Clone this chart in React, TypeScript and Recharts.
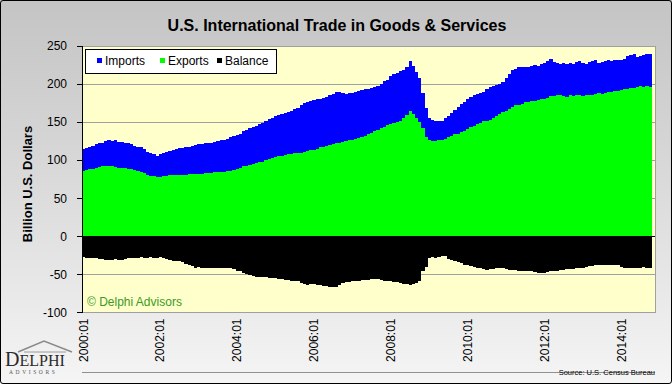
import React from 'react';
import { BarChart, Bar, XAxis, YAxis, CartesianGrid, ReferenceLine } from 'recharts';

// Monthly values, 2000:01 .. 2014:10, billion US$
const importsData = [
  115, 116, 118, 119, 121, 122, 123, 125, 126, 125, 126, 124, // 2000
  124, 123, 122, 121, 119, 118, 117, 115, 111, 110, 108, 106, // 2001
  108, 109, 111, 112, 114, 115, 116, 116, 117, 118, 119, 120, // 2002
  121, 121, 122, 123, 123, 124, 125, 126, 126, 128, 130, 132, // 2003
  133, 135, 138, 140, 142, 144, 145, 147, 149, 151, 154, 156, // 2004
  158, 160, 161, 162, 163, 165, 167, 169, 173, 175, 177, 178, // 2005
  179, 180, 181, 182, 183, 185, 187, 189, 190, 188, 187, 188, // 2006
  188, 190, 191, 192, 193, 194, 195, 196, 198, 200, 204, 206, // 2007
  211, 213, 215, 217, 219, 222, 230, 224, 216, 208, 188, 168, // 2008
  156, 153, 152, 151, 152, 155, 158, 162, 166, 170, 174, 177, // 2009
  181, 183, 185, 187, 188, 190, 193, 196, 197, 199, 200, 203, // 2010
  208, 213, 218, 220, 222, 223, 222, 223, 224, 225, 224, 226, // 2011
  228, 230, 233, 229, 228, 227, 228, 226, 228, 227, 229, 230, // 2012
  228, 226, 229, 230, 231, 228, 229, 230, 231, 230, 231, 231, // 2013
  232, 233, 237, 238, 239, 236, 237, 238, 239, 240, // 2014
];

const exportsData = [
  86, 87, 88, 89, 90, 91, 92, 92, 93, 92, 91, 90,
  90, 90, 89, 88, 87, 86, 84, 83, 80, 79, 79, 78,
  78, 79, 79, 80, 80, 80, 81, 81, 81, 82, 82, 82,
  82, 82, 83, 83, 83, 84, 84, 85, 85, 86, 86, 87,
  88, 90, 92, 93, 94, 95, 96, 97, 98, 100, 102, 103,
  104, 105, 106, 107, 108, 108, 109, 110, 110, 111, 112, 113,
  114, 115, 117, 118, 119, 120, 121, 122, 123, 124, 125, 126,
  127, 128, 129, 130, 132, 134, 136, 138, 140, 142, 144, 146,
  148, 149, 150, 152, 155, 159, 165, 161, 155, 150, 142, 131,
  127, 125, 125, 126, 127, 128, 130, 132, 134, 135, 137, 139,
  141, 143, 145, 147, 149, 151, 152, 153, 155, 158, 161, 163,
  165, 167, 170, 172, 173, 174, 176, 176, 178, 178, 179, 180,
  181, 182, 184, 184, 185, 185, 184, 183, 185, 184, 186, 185,
  184, 186, 185, 186, 187, 188, 187, 188, 189, 190, 191, 191,
  192, 193, 194, 195, 195, 196, 197, 196, 197, 196,
];

const balanceData = [
  -27, -28, -28, -29, -29, -30, -30, -31, -31, -31, -30, -31,
  -31, -30, -29, -28, -28, -28, -27, -28, -28, -27, -28, -28,
  -27, -29, -30, -31, -32, -33, -33, -34, -36, -37, -39, -41,
  -40, -41, -41, -41, -42, -42, -41, -42, -42, -42, -42, -43,
  -45, -46, -48, -50, -51, -52, -53, -53, -54, -54, -55, -55,
  -55, -56, -56, -57, -57, -58, -59, -59, -61, -63, -64, -63,
  -63, -64, -64, -65, -65, -66, -66, -66, -64, -61, -60, -60,
  -59, -58, -58, -57, -57, -57, -56, -56, -56, -57, -58, -59,
  -58, -60, -60, -61, -62, -63, -64, -63, -61, -59, -45, -40,
  -29, -27, -28, -27, -26, -26, -30, -31, -33, -34, -35, -37,
  -38, -39, -40, -41, -42, -43, -44, -43, -43, -42, -41, -42,
  -43, -44, -44, -44, -45, -46, -46, -45, -46, -47, -48, -48,
  -48, -47, -46, -46, -45, -44, -44, -43, -43, -43, -42, -41,
  -41, -40, -39, -39, -38, -38, -38, -37, -37, -38, -38, -38,
  -40, -41, -42, -42, -42, -41, -41, -40, -41, -42,
];

const months = importsData.map(
  (_, i) => `${2000 + Math.floor(i / 12)}:${String((i % 12) + 1).padStart(2, '0')}`
);
const yTicks = [-100, -50, 0, 50, 100, 150, 200, 250];

const data = months.map((month, i) => ({
  month,
  imports: importsData[i],
  exports: exportsData[i],
  balance: balanceData[i],
}));

const FONT = '"Liberation Sans", Arial, sans-serif';
const PAD = { left: 0, right: 3 };
const X_AXIS_HEIGHT = 71.5;
const LABEL_TOP = 384 - X_AXIS_HEIGHT + 6; // rotated tick labels hang below the plot

// vertical grid at each January boundary plus the right frame edge
const yearLines = ({ xAxis, offset }: any) => {
  const pts: number[] = [];
  const scale = xAxis && xAxis.scale;
  months.forEach((m, i) => {
    if (i > 0 && m.endsWith(':01') && typeof scale === 'function') {
      const v = scale(m);
      if (typeof v === 'number' && !isNaN(v)) pts.push(v);
    }
  });
  pts.push(offset.left + offset.width);
  return pts;
};

// recharts truncates the bar width to whole pixels; widen a touch and snap
// so neighbouring columns meet without seams (Excel gap width 0)
const SolidBar = ({ x, y, width, height, fill }: any) => {
  const x0 = Math.round(x - 0.12);
  const x1 = Math.round(x + width + 0.12);
  const y0 = Math.round(Math.min(y, y + height));
  const y1 = Math.round(Math.max(y, y + height));
  if (x1 <= x0 || y1 <= y0) return null;
  return <rect x={x0} y={y0} width={x1 - x0} height={y1 - y0} fill={fill} shapeRendering="crispEdges" />;
};

const XTick = ({ x, payload }: any) => (
  <text
    x={x}
    y={LABEL_TOP}
    transform={`rotate(-90, ${x}, ${LABEL_TOP})`}
    textAnchor="end"
    dominantBaseline="central"
    fontSize={12}
    fontFamily={FONT}
    fill="#000"
  >
    {payload.value}
  </text>
);

const legendItems = [
  { label: 'Imports', color: '#0000ff', x: 97 },
  { label: 'Exports', color: '#00ff00', x: 160 },
  { label: 'Balance', color: '#000000', x: 217 },
];

export default function App() {
  return (
    <div
      style={{
        position: 'absolute',
        left: 0,
        top: 0,
        width: 672,
        height: 384,
        background: 'linear-gradient(180deg, #c4c4c4 0%, #d4d4d4 35%, #e8e8e8 75%, #f5f5f5 100%)',
        fontFamily: FONT,
      }}
    >
      <style>{`
        .recharts-cartesian-grid line,
        .recharts-cartesian-axis-line,
        .recharts-cartesian-axis-tick-line,
        .recharts-reference-line line { shape-rendering: crispEdges; }
      `}</style>
      <BarChart
        width={672}
        height={384}
        data={data}
        margin={{ top: 46, right: 17, bottom: 0, left: 0 }}
        barCategoryGap={0}
        barGap={0}
      >
        <CartesianGrid
          xAxisId="imp"
          stroke="#a0a0a0"
          fill="#ffffcc"
          fillOpacity={1}
          verticalCoordinatesGenerator={yearLines}
        />
        <XAxis
          xAxisId="imp"
          dataKey="month"
          height={X_AXIS_HEIGHT}
          interval={23}
          tickLine={false}
          tickSize={0}
          tickMargin={6}
          axisLine={{ stroke: '#909090' }}
          tick={<XTick />}
          padding={PAD}
        />
        <XAxis xAxisId="exp" dataKey="month" hide padding={PAD} />
        <XAxis xAxisId="bal" dataKey="month" hide padding={PAD} />
        <YAxis
          width={82}
          domain={[-100, 250]}
          ticks={yTicks}
          interval={0}
          tickSize={5}
          tickMargin={10}
          axisLine={{ stroke: '#000' }}
          tickLine={{ stroke: '#000' }}
          tick={{ fontSize: 12, fill: '#000', fontFamily: FONT }}
        />
        <Bar xAxisId="imp" dataKey="imports" fill="#0000ff" shape={SolidBar} isAnimationActive={false} />
        <Bar xAxisId="exp" dataKey="exports" fill="#00ff00" shape={SolidBar} isAnimationActive={false} />
        <Bar xAxisId="bal" dataKey="balance" fill="#000000" shape={SolidBar} isAnimationActive={false} />
        <ReferenceLine xAxisId="imp" y={0} stroke="#000" strokeWidth={1} />
      </BarChart>

      <svg
        width={672}
        height={384}
        style={{ position: 'absolute', left: 0, top: 0, pointerEvents: 'none' }}
      >
        <text x={337} y={31} textAnchor="middle" fontSize={16} fontWeight="bold" fontFamily={FONT} fill="#000">
          U.S. International Trade in Goods &amp; Services
        </text>
        <text
          x={27}
          y={184}
          transform="rotate(-90, 27, 184)"
          textAnchor="middle"
          dominantBaseline="central"
          fontSize={13}
          fontWeight="bold"
          fontFamily={FONT}
          fill="#000"
        >
          Billion U.S. Dollars
        </text>

        <rect x={85.5} y={49.5} width={191} height={24} fill="#fff" stroke="#000" />
        {legendItems.map((it) => (
          <g key={it.label}>
            <rect x={it.x} y={58} width={5} height={5} fill={it.color} />
            <text x={it.x + 8} y={65} fontSize={12} fontFamily={FONT} fill="#000">
              {it.label}
            </text>
          </g>
        ))}

        <text x={87} y={306} fontSize={12} fontFamily={FONT} fill="#3c9a1e">
          © Delphi Advisors
        </text>
        <text x={655} y={375} textAnchor="end" fontSize={7.5} fontFamily={FONT} fill="#000">
          Source:  U.S. Census Bureau
        </text>

        <polyline points="18,352 44,341 72,352" fill="none" stroke="#8a8a8a" strokeWidth={1.5} />
        <line x1={24} y1={352} x2={66} y2={352} stroke="#9a9a9a" strokeWidth={1} />
        <text x={5} y={366} fontFamily='"Liberation Serif", "DejaVu Serif", serif' fill="#2a2a2a">
          <tspan fontSize={20}>D</tspan>
          <tspan fontSize={16}>ELPHI</tspan>
        </text>
        <text x={9} y={374} fontSize={5.5} letterSpacing={2.6} fontFamily='"Liberation Serif", serif' fill="#555">
          ADVISORS
        </text>
      </svg>

      <div
        style={{
          position: 'absolute',
          left: 0,
          top: 0,
          width: 672,
          height: 384,
          boxSizing: 'border-box',
          border: '1px solid #000',
          borderRadius: 3,
          pointerEvents: 'none',
        }}
      />
    </div>
  );
}
